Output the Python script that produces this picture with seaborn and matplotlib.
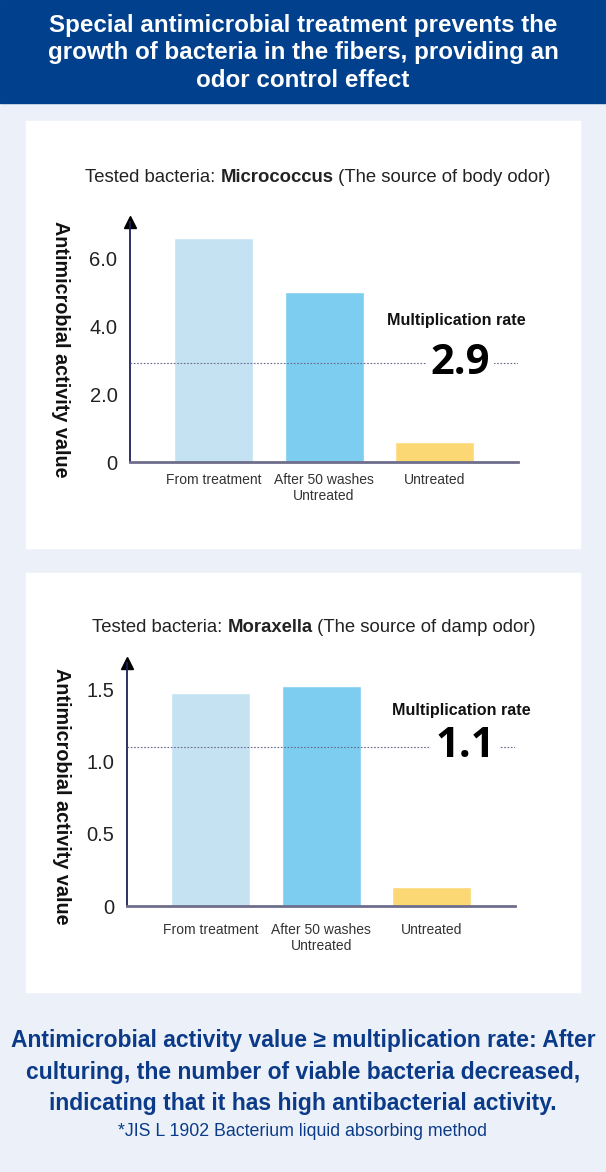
import matplotlib
matplotlib.use("Agg")
import matplotlib.pyplot as plt
import seaborn as sns
import pandas as pd
from matplotlib.patches import Rectangle
from matplotlib.offsetbox import TextArea, HPacker, AnchoredOffsetbox

# Data
categories = ["From treatment", "After 50 washes\nUntreated", "Untreated"]
micrococcus_values = [6.6, 5.0, 0.6]
moraxella_values = [1.47, 1.52, 0.13]
micrococcus_rate = 2.9
moraxella_rate = 1.1
micrococcus_ticks = [0, 2.0, 4.0, 6.0]
micrococcus_ticklabels = ["0", "2.0", "4.0", "6.0"]
moraxella_ticks = [0, 0.5, 1.0, 1.5]
moraxella_ticklabels = ["0", "0.5", "1.0", "1.5"]
bar_colors = ["#C5E2F3", "#7DCDF0", "#FCD874"]

sns.set_style("white")
plt.rcParams["font.family"] = ["Liberation Sans", "DejaVu Sans"]

W, H = 606, 1172
fig = plt.figure(figsize=(W / 100, H / 100), dpi=100)
fig.patch.set_facecolor("#ECF1F9")


def fx(px):
    return px / W


def fy(py):
    return 1 - py / H


def box(x0, y0, x1, y1, color):
    fig.patches.append(Rectangle((fx(x0), fy(y1)), fx(x1) - fx(x0), fy(y0) - fy(y1),
                                 transform=fig.transFigure, color=color, zorder=-5))


# header band and white panels
box(0, 0, W, 103, "#00408C")
box(26, 121, 580, 548, "white")
box(26, 573, 580, 992, "white")

fig.text(0.5, fy(53), "Special antimicrobial treatment prevents the\n"
         "growth of bacteria in the fibers, providing an\nodor control effect",
         ha="center", va="center", color="white", fontsize=17.4, fontweight="bold",
         linespacing=1.25)


def subtitle(cx, cy, name, rest):
    parts = [TextArea("Tested bacteria: ", textprops=dict(fontsize=13.3, color="#222222")),
             TextArea(name, textprops=dict(fontsize=13.3, color="#222222", fontweight="bold")),
             TextArea(" " + rest, textprops=dict(fontsize=13.3, color="#222222"))]
    pack = HPacker(children=parts, align="baseline", pad=0, sep=0)
    anchored = AnchoredOffsetbox(loc="center", child=pack, frameon=False, pad=0,
                                 bbox_to_anchor=(fx(cx), fy(cy)),
                                 bbox_transform=fig.transFigure, borderpad=0)
    fig.add_artist(anchored)


def chart(left, right, base, top, ymax, xmin, values, rate, ticks, ticklabels,
          label_xy, rate_xy, xpad):
    ax = fig.add_axes([fx(left), fy(base), fx(right) - fx(left), fy(top) - fy(base)])
    ax.set_facecolor("none")
    df = pd.DataFrame({"category": categories, "value": values})
    sns.barplot(data=df, x="category", y="value", hue="category", palette=bar_colors,
                legend=False, width=0.715, ax=ax, saturation=1, zorder=2)
    ax.set_ylim(0, ymax)
    ax.set_xlim(xmin, xmin + (right - left) / 110.5)
    ax.set_yticks(ticks)
    ax.set_yticklabels(ticklabels, fontsize=14.5, color="#222222")
    ax.tick_params(axis="y", length=4, width=1, color="#8888a0", pad=5)
    ax.tick_params(axis="x", length=0, pad=xpad, labelsize=10, labelcolor="#333333")
    ax.set_xlabel("")
    ax.set_ylabel("Antimicrobial activity value", rotation=270, fontsize=14.2,
                  fontweight="bold", color="#111111", ha="center", va="center")
    ax.yaxis.set_label_coords(*label_xy)
    for s in ["top", "right"]:
        ax.spines[s].set_visible(False)
    ax.spines["left"].set_color("#1E2058")
    ax.spines["left"].set_linewidth(1.3)
    ax.spines["bottom"].set_color("#6E6E8C")
    ax.spines["bottom"].set_linewidth(2)
    ax.plot([0], [1], marker="^", markersize=9, color="black", transform=ax.transAxes,
            clip_on=False)
    ax.axhline(rate, color="#6A6A8E", lw=0.8, ls=(0, (1.5, 1.5)), zorder=3)
    ax.text(rate_xy[0], rate_xy[1], "Multiplication rate", ha="center", va="center",
            fontsize=11.6, fontweight="bold", color="#111111")
    ax.text(rate_xy[0] + 0.03, rate, f"{rate:.1f}", ha="center", va="center",
            fontsize=30, fontweight="bold", color="black", family=["Open Sans", "DejaVu Sans"],
            bbox=dict(facecolor="white", edgecolor="none", pad=3), zorder=4)
    return ax


subtitle(318, 178, "Micrococcus", "(The source of body odor)")
chart(130, 518, 462, 222, 7.06, -0.756, micrococcus_values, micrococcus_rate,
      micrococcus_ticks, micrococcus_ticklabels, (-0.18, 0.47), (2.2, 4.15), 8)

subtitle(314, 628, "Moraxella", "(The source of damp odor)")
chart(127, 515, 906, 663, 1.68, -0.759, moraxella_values, moraxella_rate,
      moraxella_ticks, moraxella_ticklabels, (-0.17, 0.45), (2.27, 1.35), 12)

fig.text(0.5, fy(1072), "Antimicrobial activity value \u2265 multiplication rate: After\n"
         "culturing, the number of viable bacteria decreased,\n"
         "indicating that it has high antibacterial activity.",
         ha="center", va="center", color="#0B3B88", fontsize=16.5, fontweight="bold",
         linespacing=1.47)
fig.text(0.5, fy(1131), "*JIS L 1902 Bacterium liquid absorbing method", ha="center",
         va="center", color="#0B3B88", fontsize=12.8)

fig.savefig("out.png", dpi=100)
